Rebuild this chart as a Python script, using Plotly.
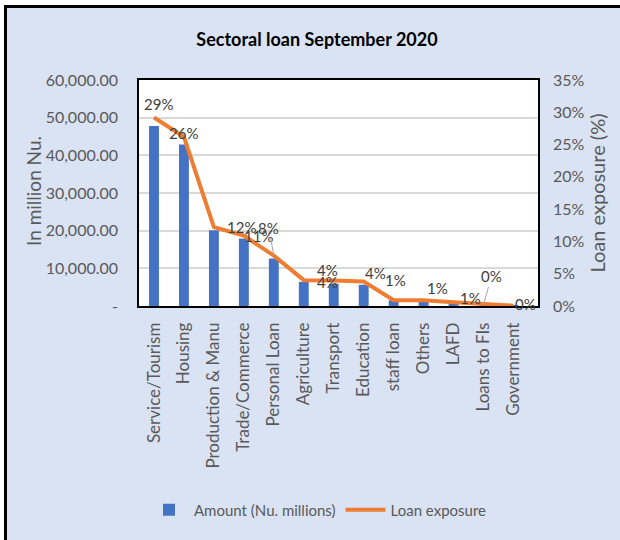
import plotly.graph_objects as go

categories = ["Service/Tourism", "Housing", "Production & Manu", "Trade/Commerce",
              "Personal Loan", "Agriculture", "Transport", "Education", "staff loan",
              "Others", "LAFD", "Loans to FIs", "Government"]
amount = [47800, 42900, 20100, 17900, 12600, 6400, 5900, 5650, 1500, 1400, 800, 300, 50]
exposure_pct = [29.2, 26.2, 12.2, 10.9, 7.8, 4.0, 3.96, 3.8, 0.9, 0.9, 0.6, 0.25, 0.05]

left_tickvals = [0, 10000, 20000, 30000, 40000, 50000, 60000]
left_ticktext = ["-", "10,000.00", "20,000.00", "30,000.00", "40,000.00", "50,000.00", "60,000.00"]

# label placement offsets (px): (dx, dy_up, leader)
label_offsets = [(5, 13, False), (0, 4, False), (28, 0, False), (15, 0, False),
                 (-5, 28, True), (24, -2, False), (-6, 10, False), (12, 8, False),
                 (2, 20, False), (14, 12, False), (17, 4, False), (8, 28, True),
                 (12, 2, False)]

FONT = "Lato, 'Open Sans', sans-serif"
GREY = "#595959"
BLUE = "#4472C4"
ORANGE = "#ED7D31"
BG = "#DAE3F3"

fig = go.Figure()
fig.add_trace(go.Bar(x=categories, y=amount, name="Amount (Nu. millions)",
                     marker=dict(color=BLUE, line=dict(width=0)), yaxis="y"))
fig.add_trace(go.Scatter(x=categories, y=exposure_pct, name="Loan exposure",
                         mode="lines", line=dict(color=ORANGE, width=4), yaxis="y2"))

W, H = 620, 540
L, R, T, B = 139, 538, 80, 306
pw, ph = R - L, B - T

def px(x):
    return (x - L) / pw

def py(y):
    return (B - y) / ph

annotations = []
for cat, p, (dx, dy, leader) in zip(categories, exposure_pct, label_offsets):
    txt = f"{round(p)}%"
    if leader:
        annotations.append(dict(x=cat, y=p, xref="x", yref="y2", text=txt,
                                showarrow=True, arrowhead=0, arrowwidth=1,
                                arrowcolor="#A6A6A6", ax=dx, ay=-dy, standoff=0,
                                font=dict(family=FONT, size=15, color="#404040")))
    else:
        annotations.append(dict(x=cat, y=p, xref="x", yref="y2", text=txt,
                                showarrow=False, xshift=dx, yshift=dy,
                                font=dict(family=FONT, size=15, color="#404040")))

# left axis title
annotations.append(dict(text="In million Nu.", xref="paper", yref="paper",
                        x=px(33), y=py(191), xanchor="center", yanchor="middle",
                        textangle=-90, showarrow=False,
                        font=dict(family=FONT, size=19, color=GREY)))

shapes = [
    dict(type="rect", xref="paper", yref="paper", x0=px(-10), x1=px(4), y0=py(600), y1=py(-10),
         fillcolor="white", line=dict(width=0), layer="above"),
    dict(type="rect", xref="paper", yref="paper", x0=px(-10), x1=px(700), y0=py(5), y1=py(-10),
         fillcolor="white", line=dict(width=0), layer="above"),
    dict(type="line", xref="paper", yref="paper", x0=px(5.5), x1=px(5.5), y0=py(5), y1=py(600),
         line=dict(color="black", width=3), layer="above"),
    dict(type="line", xref="paper", yref="paper", x0=px(4), x1=px(700), y0=py(6.5), y1=py(6.5),
         line=dict(color="black", width=3), layer="above"),
]

fig.update_layout(
    width=W, height=H,
    margin=dict(l=L, r=W - R, t=T, b=H - B, pad=0),
    paper_bgcolor=BG, plot_bgcolor="white",
    font=dict(family=FONT, color=GREY, size=15),
    title=dict(text="<b>Sectoral loan September 2020</b>", xref="container", x=317 / W,
               xanchor="center", yref="container", y=1 - 40 / H, yanchor="middle",
               font=dict(family=FONT, size=18, color="black")),
    bargap=0.67,
    showlegend=True,
    legend=dict(orientation="h", x=px(318), xanchor="center", y=py(510), yanchor="middle",
                bgcolor="rgba(0,0,0,0)", font=dict(family=FONT, size=15, color=GREY),
                itemwidth=40),
    xaxis=dict(type="category", tickangle=-90, showgrid=False,
               showline=True, mirror=True, linecolor="black", linewidth=1.5,
               ticks="", ticklabelstandoff=8, tickfont=dict(family=FONT, size=17, color=GREY)),
    yaxis=dict(range=[0, 60000], tickvals=left_tickvals, ticktext=left_ticktext,
               showgrid=True, gridcolor="#D9D9D9", gridwidth=1.5, zeroline=False,
               showline=True, mirror=True, linecolor="black", linewidth=1.5,
               ticks="", ticklabelstandoff=16,
               tickfont=dict(family=FONT, size=16, color=GREY)),
    yaxis2=dict(range=[0, 35], dtick=5, ticksuffix="%", overlaying="y", side="right",
                showgrid=False, zeroline=False, showline=False, ticks="",
                ticklabelstandoff=14, tickfont=dict(family=FONT, size=16, color=GREY),
                title=dict(text="Loan exposure (%)", standoff=3,
                           font=dict(family=FONT, size=20, color=GREY))),
    shapes=shapes,
    annotations=annotations,
)

fig.write_html("out.html", post_script="document.body.style.margin='0';",
               config={"displayModeBar": False})
